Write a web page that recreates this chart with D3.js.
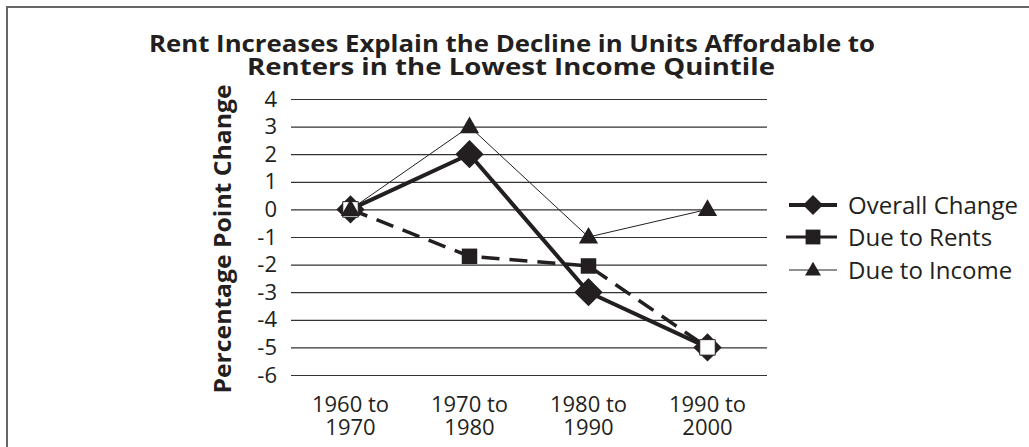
<!DOCTYPE html>
<html lang="en">
  <head>
    <meta charset="utf-8">
    <title>Rent Increases</title>
    <script src="https://d3js.org/d3.v7.min.js"></script>
    <style>
      body { margin: 0; background: #fff; }
      text { font-family: "Open Sans", sans-serif; fill: #231f20; }
    </style>
  </head>
  <body>
    <script type="text/javascript">
    // data
    var categories = ["1960 to 1970", "1970 to 1980", "1980 to 1990", "1990 to 2000"];
    var overall = [0, 2, -3, -5];
    var dueToRents = [0, -1.7, -2.05, -5];
    var dueToIncome = [0, 3, -1, 0];
    var yTicks = [4, 3, 2, 1, 0, -1, -2, -3, -4, -5, -6];
    var seriesNames = ["Overall Change", "Due to Rents", "Due to Income"];

    var w = 1029, h = 447;
    var ink = "#231f20";

    var svg = d3.select("body").append("svg")
                .attr("width", w)
                .attr("height", h);

    // frame
    svg.append("rect")
       .attr("x", 7).attr("y", 7)
       .attr("width", 1040).attr("height", 460)
       .attr("fill", "none")
       .attr("stroke", "#666")
       .attr("stroke-width", 2);

    var xScale = d3.scaleBand()
                   .domain(categories)
                   .range([291, 767]);

    var yScale = d3.scaleLinear()
                   .domain([-6, 4])
                   .range([375, 99]);

    function cx(d, i) { return xScale(categories[i]) + xScale.bandwidth() / 2; }

    // title
    var title = svg.append("text")
       .attr("text-anchor", "middle")
       .attr("font-size", "23px")
       .attr("font-weight", "bold");
    title.append("tspan").attr("x", 512).attr("y", 52)
         .attr("textLength", 726).attr("lengthAdjust", "spacingAndGlyphs")
         .text("Rent Increases Explain the Decline in Units Affordable to");
    title.append("tspan").attr("x", 511).attr("y", 75)
         .attr("textLength", 528).attr("lengthAdjust", "spacingAndGlyphs")
         .text("Renters in the Lowest Income Quintile");

    // y axis with gridlines
    var yAxis = d3.axisLeft(yScale)
                  .tickValues(yTicks)
                  .tickFormat(function(d) { return String(d); })
                  .tickSizeInner(-(767 - 291))
                  .tickSizeOuter(0)
                  .tickPadding(14);

    var gy = svg.append("g")
       .attr("transform", "translate(291,0)")
       .call(yAxis);
    gy.select(".domain").remove();
    gy.selectAll("line").attr("stroke", "#333").attr("stroke-width", 1.2);
    gy.selectAll("text")
      .attr("font-size", "22px")
      .attr("font-family", "'Open Sans', sans-serif")
      .attr("fill", ink);

    svg.append("text")
       .attr("transform", "translate(231,239) rotate(-90)")
       .attr("text-anchor", "middle")
       .attr("font-size", "23px")
       .attr("font-weight", "bold")
       .attr("textLength", 309)
       .attr("lengthAdjust", "spacingAndGlyphs")
       .text("Percentage Point Change");

    // x axis labels, two lines each
    var xAxis = d3.axisBottom(xScale).tickSize(0).tickFormat("");
    var gx = svg.append("g")
       .attr("transform", "translate(0,375)")
       .call(xAxis);
    gx.select(".domain").remove();
    gx.selectAll(".tick").append("text")
      .attr("text-anchor", "middle")
      .attr("font-size", "22px")
      .attr("font-family", "'Open Sans', sans-serif")
      .attr("fill", ink)
      .each(function(d) {
        var parts = d.split(" to ");
        var t = d3.select(this);
        t.append("tspan").attr("x", 0).attr("y", 37).text(parts[0] + " to");
        t.append("tspan").attr("x", 0).attr("y", 60).text(parts[1]);
      });

    var line = d3.line()
                 .x(cx)
                 .y(function(d) { return yScale(d); });

    // Overall change
    svg.append("path")
       .attr("d", line(overall))
       .attr("fill", "none")
       .attr("stroke", ink)
       .attr("stroke-width", 4)
       .attr("stroke-linejoin", "round");

    // Due to rents
    svg.append("path")
       .attr("d", line(dueToRents))
       .attr("fill", "none")
       .attr("stroke", ink)
       .attr("stroke-width", 3.5)
       .attr("stroke-dasharray", "18,10");

    // Due to income
    svg.append("path")
       .attr("d", line(dueToIncome))
       .attr("fill", "none")
       .attr("stroke", ink)
       .attr("stroke-width", 1);

    var diamond = d3.symbol().type(d3.symbolSquare).size(400);
    var square = d3.symbol().type(d3.symbolSquare).size(240);
    var triangle = d3.symbol().type(d3.symbolTriangle).size(160);

    svg.selectAll(".m-overall")
       .data(overall)
       .enter().append("path")
       .attr("class", "m-overall")
       .attr("d", diamond)
       .attr("transform", function(d, i) { return "translate(" + cx(d, i) + "," + yScale(d) + ") rotate(45)"; })
       .attr("fill", ink);

    svg.selectAll(".m-rents")
       .data(dueToRents)
       .enter().append("path")
       .attr("class", "m-rents")
       .attr("d", square)
       .attr("transform", function(d, i) { return "translate(" + cx(d, i) + "," + yScale(d) + ")"; })
       .attr("fill", function(d, i) { return d === overall[i] ? "#fff" : ink; })
       .attr("stroke", function(d, i) { return d === overall[i] ? ink : "none"; })
       .attr("stroke-width", 1);

    svg.selectAll(".m-income")
       .data(dueToIncome)
       .enter().append("path")
       .attr("class", "m-income")
       .attr("d", triangle)
       .attr("transform", function(d, i) { return "translate(" + cx(d, i) + "," + (yScale(d) + 1) + ")"; })
       .attr("fill", ink);

    // legend
    var legend = svg.append("g");
    var rowsY = [205, 237, 270];
    var legendStyles = [
      { width: 4, sym: d3.symbol().type(d3.symbolSquare).size(200), rot: 45 },
      { width: 3, sym: d3.symbol().type(d3.symbolSquare).size(220), rot: 0 },
      { width: 1, sym: d3.symbol().type(d3.symbolTriangle).size(110), rot: 0 }
    ];
    seriesNames.forEach(function(name, i) {
      var g = legend.append("g").attr("transform", "translate(0," + rowsY[i] + ")");
      g.append("line")
       .attr("x1", i === 1 ? 786 : 789).attr("x2", 837)
       .attr("stroke", ink)
       .attr("stroke-width", legendStyles[i].width);
      g.append("path")
       .attr("d", legendStyles[i].sym)
       .attr("transform", "translate(813," + (i === 2 ? 1 : 0) + ") rotate(" + legendStyles[i].rot + ")")
       .attr("fill", ink);
      g.append("text")
       .attr("x", 848)
       .attr("dy", "0.36em")
       .attr("font-size", "24px")
       .text(name);
    });
    </script>
  </body>
</html>
